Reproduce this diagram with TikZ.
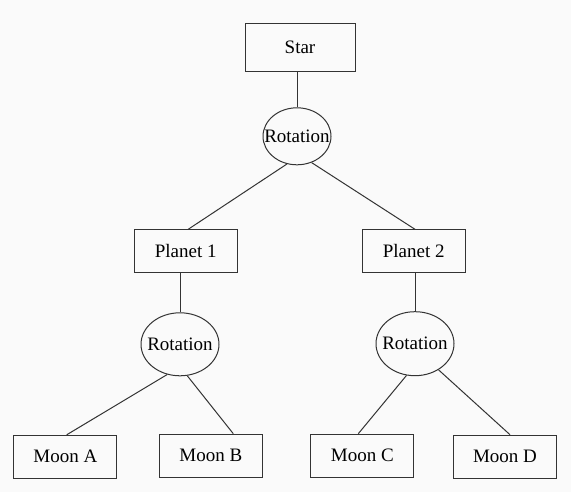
\documentclass[tikz,border=0pt]{standalone}
\usepackage{fontspec}
\setmainfont{Liberation Serif}
\usetikzlibrary{shapes.geometric}
\begin{document}
\begin{tikzpicture}[x=1pt,y=-1pt,
  box/.style={draw=black!80, line width=1pt, rectangle, inner sep=0pt, minimum width=103pt, minimum height=43pt, font=\fontsize{19}{21}\selectfont},
  rot/.style={draw=black!80, line width=1pt, ellipse, inner sep=0pt, font=\fontsize{19}{21}\selectfont},
  link/.style={draw=black!80, line width=1pt}]
\fill[fill=white!98!black] (0,0) rectangle (571,492);
\useasboundingbox (0,0) rectangle (571,492);
\node[box, minimum width=110pt, minimum height=48pt] (star) at (300,47.5) {Star};
\node[rot, minimum width=68pt, minimum height=57pt] (rot0) at (297,136.3) {\makebox[0pt]{Rotation}};
\node[box] (p1) at (185.7,251.3) {Planet 1};
\node[box] (p2) at (413.7,251.3) {Planet 2};
\node[rot, minimum width=78pt, minimum height=63pt] (rot1) at (180,344.3) {\makebox[0pt]{Rotation}};
\node[rot, minimum width=78pt, minimum height=64pt] (rot2) at (415,343.7) {\makebox[0pt]{Rotation}};
\node[box] (ma) at (65.3,456.8) {Moon A};
\node[box] (mb) at (210.8,455.7) {Moon B};
\node[box] (mc) at (362.3,455.7) {Moon C};
\node[box] (md) at (505,456.7) {Moon D};
\draw[link] (star.south -| rot0.north) -- (rot0.north);
\draw[link] (rot0.250) -- ([xshift=2.5pt]p1.north);
\draw[link] (rot0.299) -- ([xshift=1.3pt]p2.north);
\draw[link] (rot1.north |- p1.south) -- (rot1.north);
\draw[link] (rot2.north |- p2.south) -- (rot2.north);
\draw[link] (rot1.247) -- ([xshift=1.4pt]ma.north);
\draw[link] (rot1.283) -- ([xshift=22.5pt]mb.north);
\draw[link] (rot2.255) -- ([xshift=-4pt]mc.north);
\draw[link] (rot2.312) -- ([xshift=5pt]md.north);
\end{tikzpicture}
\end{document}
